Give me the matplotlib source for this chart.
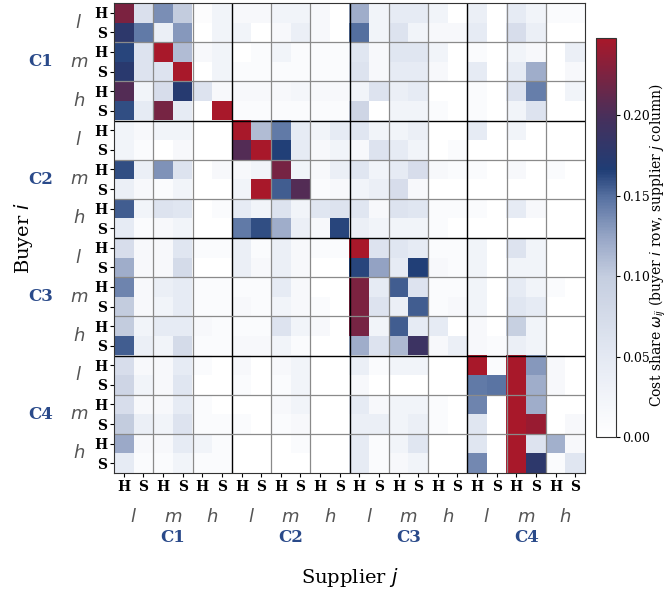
import numpy as np
import matplotlib
matplotlib.use("Agg")
import matplotlib.pyplot as plt
from matplotlib.colors import LinearSegmentedColormap
from matplotlib import transforms

plt.rcParams['font.family'] = 'DejaVu Serif'

countries = ["C1", "C2", "C3", "C4"]
levels = ["l", "m", "h"]
sectors = ["H", "S"]

# cost shares, buyer rows (C1 l H ... C4 h S) x supplier columns (same order)
c1_rows = [
    [.225, .065, .135, .100, .005, .025, .015, .015, .025, .025, .015, .000, .120, .025, .045, .045, .025, .000, .035, .000, .045, .025, .008, .008],
    [.178, .145, .035, .130, .000, .025, .025, .000, .015, .035, .015, .000, .150, .025, .060, .025, .015, .015, .045, .000, .070, .035, .000, .000],
    [.163, .060, .248, .110, .015, .025, .000, .008, .025, .008, .008, .008, .055, .015, .055, .055, .025, .000, .008, .000, .025, .015, .000, .035],
    [.175, .060, .060, .248, .000, .025, .008, .008, .008, .008, .008, .008, .060, .015, .045, .045, .015, .000, .045, .000, .045, .120, .000, .015],
    [.205, .025, .070, .172, .060, .015, .015, .015, .015, .020, .015, .015, .025, .060, .035, .045, .000, .000, .008, .000, .060, .143, .000, .025],
    [.160, .045, .222, .045, .000, .248, .008, .008, .008, .008, .008, .008, .085, .000, .025, .025, .008, .000, .008, .000, .025, .060, .000, .000],
]
c2_rows = [
    [.025, .015, .025, .025, .000, .000, .248, .110, .145, .045, .025, .045, .055, .025, .025, .035, .000, .000, .045, .000, .025, .000, .000, .000],
    [.025, .008, .000, .015, .000, .000, .205, .248, .165, .045, .015, .025, .015, .060, .045, .025, .000, .008, .000, .000, .000, .000, .000, .000],
    [.160, .035, .133, .060, .000, .015, .015, .025, .222, .025, .015, .035, .055, .025, .045, .070, .015, .008, .008, .000, .015, .000, .008, .000],
    [.035, .015, .008, .025, .000, .000, .025, .248, .155, .205, .008, .015, .025, .035, .070, .015, .000, .000, .000, .000, .000, .000, .000, .000],
    [.155, .025, .060, .055, .000, .008, .045, .025, .060, .025, .055, .060, .055, .015, .060, .055, .008, .008, .008, .000, .045, .015, .000, .000],
    [.045, .008, .015, .025, .000, .000, .145, .160, .120, .035, .015, .163, .035, .025, .025, .025, .008, .000, .000, .000, .000, .000, .000, .000],
]
c3_rows = [
    [.070, .015, .015, .055, .008, .008, .035, .008, .035, .015, .008, .008, .248, .060, .055, .045, .008, .008, .025, .000, .060, .025, .000, .000],
    [.120, .015, .015, .075, .000, .000, .035, .015, .035, .015, .000, .000, .163, .125, .045, .165, .015, .008, .025, .000, .025, .025, .000, .000],
    [.140, .015, .035, .045, .008, .008, .008, .008, .045, .015, .000, .000, .225, .045, .155, .060, .008, .008, .025, .000, .045, .025, .008, .000],
    [.100, .015, .025, .045, .008, .008, .015, .008, .025, .015, .008, .000, .225, .060, .035, .155, .008, .015, .025, .000, .055, .045, .000, .000],
    [.100, .025, .045, .045, .015, .008, .008, .008, .060, .025, .015, .000, .222, .025, .155, .045, .045, .000, .015, .000, .095, .025, .000, .000],
    [.155, .035, .025, .075, .008, .008, .015, .015, .025, .008, .000, .000, .120, .060, .112, .190, .015, .035, .015, .008, .035, .025, .000, .000],
]
c4_rows = [
    [.070, .015, .015, .045, .008, .000, .015, .000, .015, .025, .000, .000, .035, .008, .025, .025, .000, .000, .248, .008, .248, .130, .015, .000],
    [.085, .025, .015, .055, .000, .000, .008, .000, .008, .025, .000, .000, .015, .000, .000, .000, .000, .000, .145, .148, .248, .120, .015, .000],
    [.070, .015, .015, .045, .008, .000, .000, .000, .015, .025, .000, .000, .045, .015, .025, .025, .008, .000, .140, .000, .248, .120, .000, .000],
    [.100, .035, .025, .060, .008, .008, .008, .000, .008, .015, .000, .000, .035, .035, .025, .035, .008, .000, .055, .000, .248, .240, .000, .015],
    [.122, .015, .015, .045, .025, .008, .000, .000, .000, .008, .000, .000, .045, .008, .025, .055, .000, .000, .055, .000, .248, .060, .118, .015],
    [.045, .008, .008, .025, .008, .008, .000, .000, .000, .000, .000, .000, .045, .008, .015, .025, .000, .000, .138, .000, .248, .178, .008, .055],
]
omega = np.array(c1_rows + c2_rows + c3_rows + c4_rows)
n = omega.shape[0]

cmap = LinearSegmentedColormap.from_list(
    "wbr", [(0.0, "#ffffff"), (0.20, "#e4e9f3"), (0.40, "#c5cee0"),
            (0.50, "#97a6c6"), (0.60, "#5872a2"), (0.67, "#1f3d75"),
            (0.80, "#46305c"), (1.0, "#a8182a")])

fig = plt.figure(figsize=(6.66, 5.94), dpi=100)
ax = fig.add_axes([0.1712, 0.2037, 0.7072, 0.7912])
cax = fig.add_axes([0.8949, 0.2643, 0.0300, 0.6717])

im = ax.imshow(omega, cmap=cmap, vmin=0, vmax=0.248, aspect="auto",
               interpolation="nearest")

# grid: grey every level block, black every country block
for k in range(2, n, 2):
    c = "black" if k % 6 == 0 else "#8a8a8a"
    lw = 1.0 if k % 6 == 0 else 0.9
    ax.axhline(k - 0.5, color=c, lw=lw)
    ax.axvline(k - 0.5, color=c, lw=lw)
for s in ax.spines.values():
    s.set_color("#333333")

ticklabels = [s for _ in countries for _ in levels for s in sectors]
ax.set_xticks(range(n))
ax.set_yticks(range(n))
ax.set_xticklabels(ticklabels, fontweight="bold", fontsize=10)
ax.set_yticklabels(ticklabels, fontweight="bold", fontsize=10)
ax.tick_params(length=3, pad=2)

tx = transforms.blended_transform_factory(ax.transData, ax.transAxes)
ty = transforms.blended_transform_factory(ax.transAxes, ax.transData)
for ci, cname in enumerate(countries):
    for li, lv in enumerate(levels):
        pos = ci * 6 + li * 2 + 0.5
        ax.text(pos, -0.093, "$" + lv + "$", transform=tx, ha="center", va="center",
                fontsize=13, color="#555555")
        ax.text(-0.075, pos, "$" + lv + "$", transform=ty, ha="center", va="center",
                fontsize=13, color="#555555")
    mid = ci * 6 + 2.5
    ax.text(mid, -0.137, cname, transform=tx, ha="center", va="center",
            fontsize=12, fontweight="bold", color="#2a4a8a")
    ax.text(-0.155, mid, cname, transform=ty, ha="center", va="center",
            fontsize=12, fontweight="bold", color="#2a4a8a")

ax.text(0.5, -0.222, "Supplier $j$", transform=ax.transAxes, ha="center",
        va="center", fontsize=14)
ax.text(-0.193, 0.5, "Buyer $i$", transform=ax.transAxes, ha="center",
        va="center", fontsize=14, rotation=90)

cb = fig.colorbar(im, cax=cax)
cb.set_ticks([0.0, 0.05, 0.10, 0.15, 0.20])
cb.ax.tick_params(labelsize=9, length=3, pad=1.5)
cb.set_label(r"Cost share $\omega_{ij}$ (buyer $i$ row, supplier $j$ column)",
             fontsize=10)
lab = cb.ax.yaxis.label
lab.set_verticalalignment("center")
lab.set_horizontalalignment("center")
cb.ax.yaxis.set_label_coords(3.08, 0.48)
cb.outline.set_edgecolor("#333333")

fig.savefig("out.png", dpi=100)
